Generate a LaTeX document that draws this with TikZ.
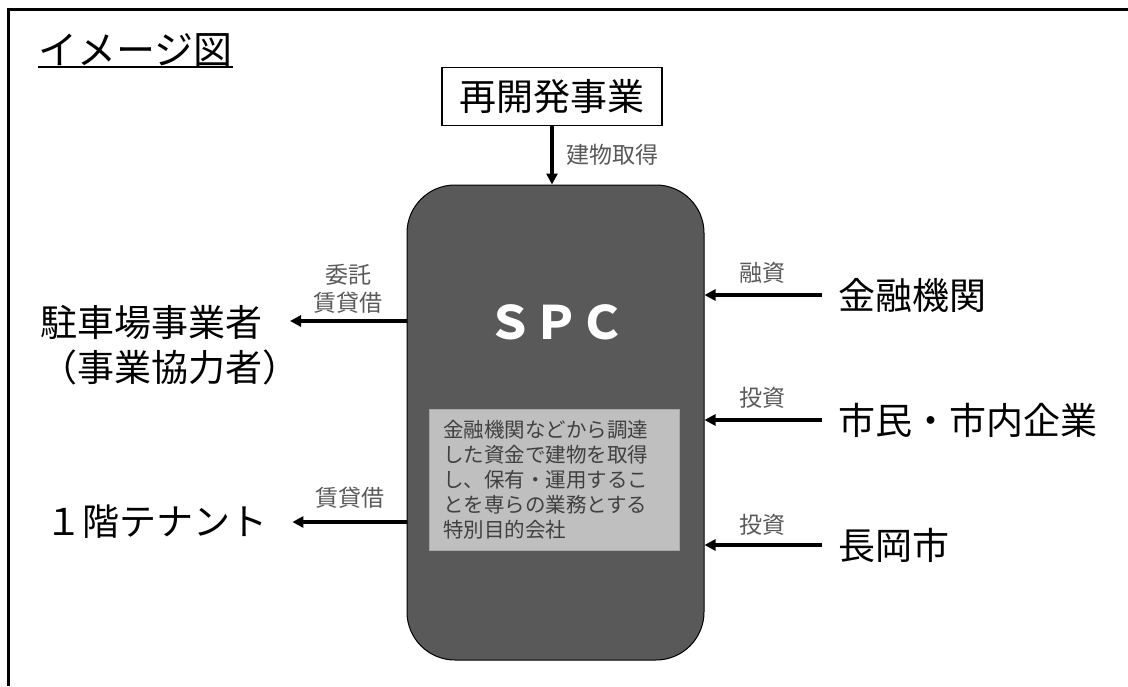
\documentclass[tikz,border=0pt]{standalone}
\usepackage{fontspec}
\setmainfont{Noto Sans CJK JP}
\usetikzlibrary{arrows.meta}
\definecolor{spcfill}{HTML}{595959}
\definecolor{lblgray}{HTML}{595959}
\definecolor{descfill}{HTML}{BFBFBF}
\definecolor{descline}{HTML}{A6A6A6}
\definecolor{desctext}{HTML}{404040}
\tikzset{
  big/.style={font=\fontsize{37}{45}\selectfont, inner sep=0pt},
  lbl/.style={font=\fontsize{23}{28}\selectfont, text=lblgray, inner sep=0pt, align=center},
  arr/.style={line width=3.5pt, -{Triangle[length=11pt,width=11pt]}},
  frame/.style={line width=3pt}
}
\begin{document}
\begin{tikzpicture}[x=1pt,y=-1pt]
\useasboundingbox (0,0) rectangle (1128,686);
% frame
\draw[frame] (8,686) -- (8,9) -- (1128,9);
% title
\node[big, font=\fontsize{39}{45}\selectfont, anchor=base west] (title) at (38,64) {イメージ図};
\draw[line width=2pt] ([yshift=-3pt]title.base west) -- ([yshift=-3pt]title.base east);
% top box
\node[big, draw, line width=1.5pt, minimum width=220pt, minimum height=58pt] (top) at (552,96.5) {再開発事業};
% SPC
\node[draw, line width=1pt, fill=spcfill, rounded corners=48pt, minimum width=297pt, minimum height=475pt] (spc) at (555.5,422.5) {};
\node[font=\fontsize{46}{46}\selectfont\bfseries, text=white, inner sep=0pt] (spct) at (556,322) {ＳＰＣ};
% description box
\node[draw=descline, line width=1pt, fill=descfill, minimum width=250pt, minimum height=141pt,
      text width=222pt, inner xsep=14pt, align=left, text=desctext,
      font=\fontsize{20.5}{25}\selectfont] (desc) at (554,479.5)
  {金融機関などから調達\\した資金で建物を取得\\し、保有・運用するこ\\とを専らの業務とする\\特別目的会社};
% arrow top -> spc
\draw[arr] (top.south) -- (top.south |- spc.north);
\node[lbl, anchor=west] (lbtop) at (566,155) {建物取得};
% left side
\node[big, anchor=west, align=left] (park) at (40,345) {駐車場事業者\\（事業協力者）};
\coordinate (parktip) at (290,321);
\draw[arr] (spc.west |- parktip) -- (parktip);
\node[lbl] (lbpark) at (348,289) {委託\\賃貸借};
\node[big, anchor=west] (ten) at (45,522) {１階テナント};
\draw[arr] (spc.west |- ten.east) -- ([xshift=25pt]ten.east);
\node[lbl] (lbten) at (350,498) {賃貸借};
% right side
\node[big, anchor=west] (fin) at (838,295) {金融機関};
\draw[arr] ([xshift=-16pt]fin.west) -- (spc.east |- fin.west);
\node[lbl] (lbfin) at (762,273) {融資};
\node[big, anchor=west] (cit) at (838,420) {市民・市内企業};
\draw[arr] ([xshift=-16pt]cit.west) -- (spc.east |- cit.west);
\node[lbl] (lbcit) at (762,398) {投資};
\node[big, anchor=west] (city) at (838,545) {長岡市};
\draw[arr] ([xshift=-16pt]city.west) -- (spc.east |- city.west);
\node[lbl] (lbcity) at (762,525) {投資};
\end{tikzpicture}
\end{document}
